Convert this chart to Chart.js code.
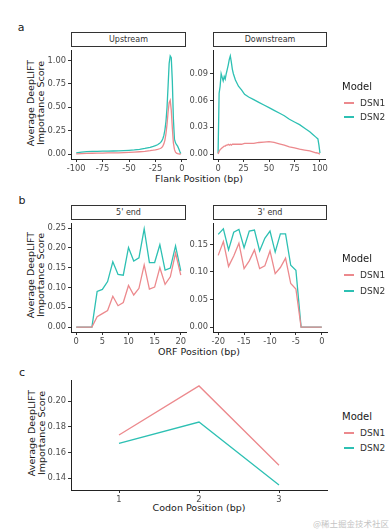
<!DOCTYPE html>
<html>
<head>
<meta charset="utf-8">
<script src="https://cdn.jsdelivr.net/npm/chart.js@4"></script>
<style>
  body { margin: 0; width: 391px; height: 532px; overflow: hidden; position: relative; background: #fff;
         font-family: 'DejaVu Sans', sans-serif; color: #1a1a1a; }
  canvas { position: absolute; }
  .t { position: absolute; white-space: nowrap; transform: translate(-50%, -50%); }
  .letter { font-size: 11px; }
  .xtitle { font-size: 9.5px; }
  .ytitle { font-size: 9.5px; line-height: 10px; text-align: center; transform: translate(-50%, -50%) rotate(-90deg); }
  .strip { position: absolute; box-sizing: border-box; height: 15px; line-height: 13px; border: 1px solid #333;
           background: #fff; font-size: 8px; color: #333; text-align: center; }
  .lg { position: absolute; white-space: nowrap; transform: translateY(-50%); }
  .lgtitle { font-size: 10px; }
  .lgitem { font-size: 9px; color: #333; }
  .key { position: absolute; height: 1.3px; width: 10px; }
  .wm { position: absolute; right: 2px; top: 517px; font-size: 8.5px; color: #c4c4c4;
        font-family: 'Noto Sans CJK SC', sans-serif; }
</style>
</head>
<body>

<div class="t letter" style="left:21px;top:27px">a</div>
<div class="t letter" style="left:22px;top:200px">b</div>
<div class="t letter" style="left:22px;top:372px">c</div>

<div class="strip" style="left:71px;top:32px;width:115px">Upstream</div>
<div class="strip" style="left:213px;top:32px;width:114px">Downstream</div>
<div class="strip" style="left:71px;top:205px;width:115px">5' end</div>
<div class="strip" style="left:213px;top:205px;width:114px">3' end</div>

<div class="t ytitle" style="left:36px;top:103px">Average DeepLIFT<br>Importance Score</div>
<div class="t ytitle" style="left:36px;top:275px">Average DeepLIFT<br>Importance Score</div>
<div class="t ytitle" style="left:37px;top:433px">Average DeepLIFT<br>Importance Score</div>

<div class="t xtitle" style="left:199px;top:178px">Flank Position (bp)</div>
<div class="t xtitle" style="left:199px;top:351px">ORF Position (bp)</div>
<div class="t xtitle" style="left:199px;top:507px">Codon Position (bp)</div>

<canvas id="upChart"></canvas>
<canvas id="dnChart"></canvas>
<canvas id="fiveChart"></canvas>
<canvas id="threeChart"></canvas>
<canvas id="codonChart"></canvas>

<div id="legends"></div>
<div class="wm">@稀土掘金技术社区</div>

<script>
// ---- colours ----
var DSN1_COLOR = '#EC898D';
var DSN2_COLOR = '#2DC0B3';
var seriesNames = ['DSN1', 'DSN2'];

// ---- a: Upstream flank ----
var upX    = [-100, -95, -90, -85, -80, -75, -70, -65, -60, -55, -50, -45, -40, -35, -30, -27, -25, -23, -21, -20,
              -19, -18, -17, -16, -15, -14, -13, -12, -11, -10, -9, -8, -7, -6, -5, -4, -3, -2, -1];
var upDSN1 = [0.002, 0.005, 0.007, 0.009, 0.010, 0.011, 0.012, 0.013, 0.014, 0.016, 0.018, 0.021, 0.025, 0.030, 0.037, 0.042, 0.046, 0.051, 0.057, 0.062,
              0.070, 0.085, 0.11, 0.15, 0.22, 0.32, 0.45, 0.55, 0.575, 0.47, 0.28, 0.12, 0.05, 0.02, 0.01, 0.005, 0.002, 0.001, 0.0];
var upDSN2 = [0.012, 0.020, 0.026, 0.028, 0.030, 0.031, 0.032, 0.033, 0.035, 0.037, 0.040, 0.044, 0.050, 0.060, 0.072, 0.082, 0.090, 0.100, 0.115, 0.125,
              0.14, 0.165, 0.20, 0.26, 0.35, 0.50, 0.73, 0.97, 1.05, 1.03, 0.78, 0.38, 0.16, 0.12, 0.10, 0.085, 0.06, 0.03, 0.005];
var upXTicks = [-100, -75, -50, -25, 0];
var upYTicks = [0, 0.25, 0.5, 0.75, 1];

// ---- a: Downstream flank ----
var dnX    = [0, 1, 2, 3, 4, 5, 6, 7, 8, 9, 10, 11, 12, 13, 14, 15, 17, 20, 23, 26,
              30, 35, 40, 45, 50, 55, 60, 65, 70, 75, 80, 85, 90, 93, 96, 98, 99, 100];
var dnDSN1 = [0.000, 0.003, 0.005, 0.006, 0.007, 0.008, 0.009, 0.009, 0.010, 0.010, 0.011, 0.010, 0.011, 0.010, 0.011, 0.011, 0.011, 0.011, 0.011, 0.012,
              0.012, 0.012, 0.013, 0.0135, 0.014, 0.013, 0.0115, 0.010, 0.008, 0.007, 0.0055, 0.0045, 0.0035, 0.0025, 0.0015, 0.001, 0.0005, 0.000];
var dnDSN2 = [0.001, 0.068, 0.076, 0.090, 0.086, 0.082, 0.087, 0.084, 0.090, 0.095, 0.100, 0.106, 0.110, 0.103, 0.095, 0.090, 0.083, 0.076, 0.072, 0.067,
              0.064, 0.061, 0.058, 0.055, 0.052, 0.049, 0.046, 0.043, 0.039, 0.036, 0.033, 0.029, 0.025, 0.022, 0.019, 0.017, 0.010, 0.001];
var dnXTicks = [0, 25, 50, 75, 100];
var dnYTicks = [0, 0.03, 0.06, 0.09];

// ---- b: 5' end of ORF ----
var fiveX    = [0, 1, 2, 3, 4, 5, 6, 7, 8, 9, 10, 11, 12, 13, 14, 15, 16, 17, 18, 19, 20];
var fiveDSN1 = [0, 0, 0, 0, 0.026, 0.034, 0.042, 0.078, 0.054, 0.062, 0.105, 0.081, 0.098, 0.157, 0.096, 0.101, 0.150, 0.108, 0.127, 0.187, 0.131];
var fiveDSN2 = [0, 0, 0, 0, 0.090, 0.095, 0.115, 0.165, 0.133, 0.131, 0.201, 0.167, 0.175, 0.248, 0.163, 0.163, 0.208, 0.144, 0.149, 0.205, 0.142];
var fiveXTicks = [0, 5, 10, 15, 20];
var fiveYTicks = [0, 0.05, 0.10, 0.15, 0.20, 0.25];

// ---- b: 3' end of ORF ----
var threeX    = [-20, -19, -18, -17, -16, -15, -14, -13, -12, -11, -10, -9, -8, -7, -6, -5, -4, -3, -2, -1, 0];
var threeDSN1 = [0.130, 0.155, 0.110, 0.129, 0.152, 0.106, 0.120, 0.140, 0.106, 0.111, 0.138, 0.097, 0.108, 0.125, 0.079, 0.069, 0, 0, 0, 0, 0];
var threeDSN2 = [0.168, 0.178, 0.140, 0.172, 0.177, 0.144, 0.174, 0.176, 0.138, 0.161, 0.174, 0.136, 0.169, 0.169, 0.112, 0.103, 0, 0, 0, 0, 0];
var threeXTicks = [-20, -15, -10, -5, 0];
var threeYTicks = [0, 0.05, 0.10, 0.15];

// ---- c: codon position ----
var codonX    = [1, 2, 3];
var codonDSN1 = [0.1736, 0.2118, 0.1500];
var codonDSN2 = [0.1670, 0.1837, 0.1346];
var codonXTicks = [1, 2, 3];
var codonYTicks = [0.14, 0.16, 0.18, 0.20];

var YW = 36, XH = 20, PAD = 3;
var tickFont = { family: 'DejaVu Sans', size: 8.3 };

function pts(xs, ys) {
    return xs.map(function (x, i) { return { x: x, y: ys[i] }; });
}

// ggplot-like 5% expansion of a data range
function expand(vals, mult) {
    var lo = Math.min.apply(null, vals), hi = Math.max.apply(null, vals);
    var e = (hi - lo) * mult;
    return [lo - e, hi + e];
}

function axis(range, ticks, fmt, fit) {
    return {
        type: 'linear',
        min: range[0], max: range[1],
        afterBuildTicks: function (s) { s.ticks = ticks.map(function (v) { return { value: v }; }); },
        afterFit: fit,
        border: { display: true, color: '#222', width: 1 },
        grid: { display: true, drawOnChartArea: false, drawTicks: true, tickLength: 3, color: '#333' },
        ticks: { color: '#4d4d4d', padding: 2, font: tickFont, maxRotation: 0, autoSkip: false, callback: fmt }
    };
}

function panel(id, box, xs, s1, s2, xRange, xTicks, yRange, yTicks) {
    var cv = document.getElementById(id);
    var w = box.r - box.l + YW + PAD;
    var h = box.b - box.t + PAD + XH;
    cv.width = w; cv.height = h;
    cv.style.left = (box.l - YW) + 'px';
    cv.style.top = (box.t - PAD) + 'px';
    cv.style.width = w + 'px';
    cv.style.height = h + 'px';
    var line = { borderWidth: 1.3, pointRadius: 0, tension: 0, fill: false };
    new Chart(cv, {
        type: 'line',
        data: {
            datasets: [
                Object.assign({ label: seriesNames[0], data: pts(xs, s1), borderColor: DSN1_COLOR }, line),
                Object.assign({ label: seriesNames[1], data: pts(xs, s2), borderColor: DSN2_COLOR }, line)
            ]
        },
        options: {
            responsive: false,
            animation: false,
            devicePixelRatio: 1,
            layout: { padding: { top: PAD, right: PAD, left: 0, bottom: 0 } },
            plugins: { legend: { display: false }, tooltip: { enabled: false } },
            scales: {
                x: axis(xRange, xTicks, function (v) { return String(v); }, function (s) { s.height = XH; }),
                y: axis(yRange, yTicks, function (v) { return v.toFixed(2); }, function (s) { s.width = YW; })
            }
        }
    });
}

panel('upChart',    { l: 71,  r: 186, t: 47,  b: 159 }, upX, upDSN1, upDSN2,
      expand(upX, 0.05), upXTicks, expand(upDSN1.concat(upDSN2), 0.05), upYTicks);
panel('dnChart',    { l: 213, r: 327, t: 47,  b: 159 }, dnX, dnDSN1, dnDSN2,
      expand(dnX, 0.05), dnXTicks, expand(dnDSN1.concat(dnDSN2), 0.05), dnYTicks);
panel('fiveChart',  { l: 71,  r: 186, t: 220, b: 332 }, fiveX, fiveDSN1, fiveDSN2,
      expand(fiveX, 0.05), fiveXTicks, expand(fiveDSN1.concat(fiveDSN2), 0.05), fiveYTicks);
panel('threeChart', { l: 213, r: 327, t: 220, b: 332 }, threeX, threeDSN1, threeDSN2,
      expand(threeX, 0.05), threeXTicks, expand(threeDSN1.concat(threeDSN2), 0.05), threeYTicks);
// discrete x axis in the original: 0.6 units of padding on each side
panel('codonChart', { l: 71,  r: 327, t: 377, b: 490 }, codonX, codonDSN1, codonDSN2,
      [0.4, 3.6], codonXTicks, expand(codonDSN1.concat(codonDSN2), 0.05), codonYTicks);

// ---- legends (one per row) ----
var legendRows = [
    { title: 86,  items: [103, 117] },
    { title: 258, items: [275, 291] },
    { title: 416, items: [433, 448] }
];
var colors = [DSN1_COLOR, DSN2_COLOR];
var holder = document.getElementById('legends');
legendRows.forEach(function (row) {
    var t = document.createElement('div');
    t.className = 'lg lgtitle';
    t.style.left = '342px'; t.style.top = row.title + 'px';
    t.textContent = 'Model';
    holder.appendChild(t);
    row.items.forEach(function (y, i) {
        var k = document.createElement('div');
        k.className = 'key';
        k.style.left = '344px'; k.style.top = (y - 0.6) + 'px';
        k.style.background = colors[i];
        holder.appendChild(k);
        var l = document.createElement('div');
        l.className = 'lg lgitem';
        l.style.left = '360px'; l.style.top = y + 'px';
        l.textContent = seriesNames[i];
        holder.appendChild(l);
    });
});
</script>
</body>
</html>
